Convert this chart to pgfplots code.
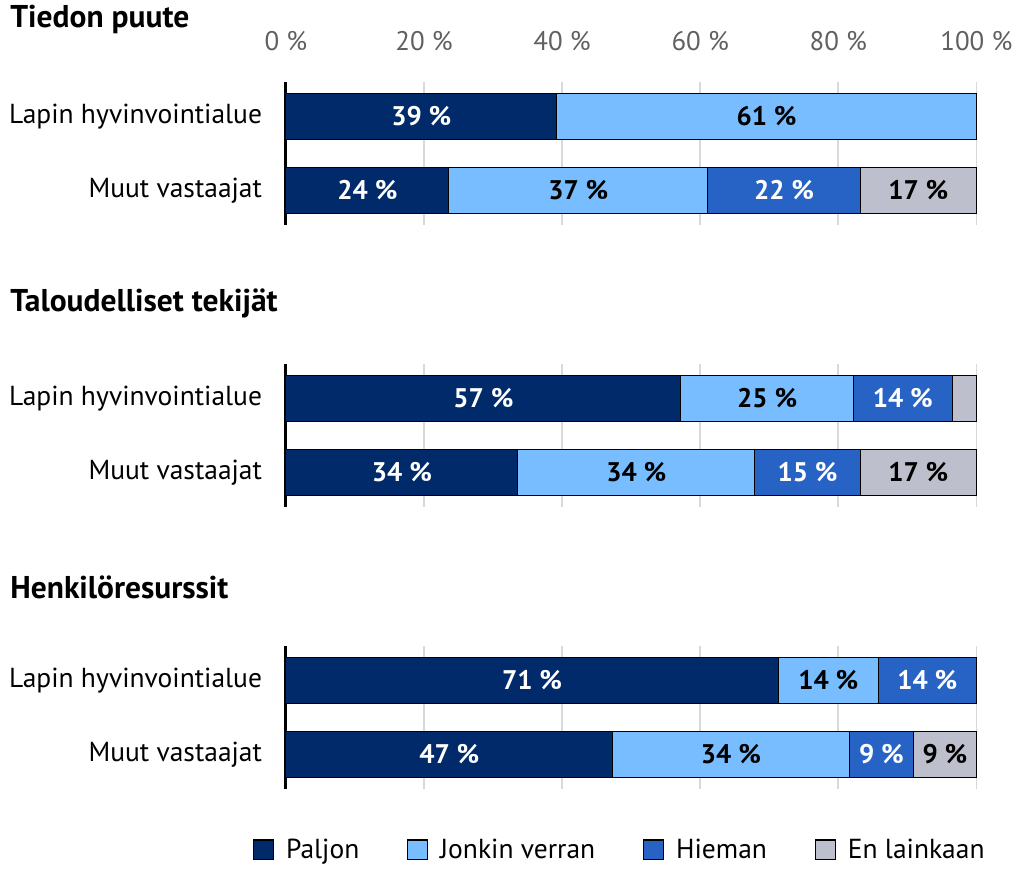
\documentclass[border=0pt]{standalone}
\usepackage{pgfplots}
\pgfplotsset{compat=1.18}
\usepackage{fontspec}
\setmainfont{PT Sans}

\definecolor{paljon}{HTML}{002A6A}
\definecolor{jonkin}{HTML}{77BDFF}
\definecolor{hieman}{HTML}{2762C5}
\definecolor{eilain}{HTML}{BEBFCD}
\definecolor{tickgray}{HTML}{606060}

\pgfplotsset{
  panel/.style={
    xbar stacked, scale only axis, clip=false,
    width=346.5pt, height=72pt,
    xmin=0, xmax=100, ymin=-0.466, ymax=1.466,
    bar width=0.617,
    ytick={0,1}, yticklabels={Muut vastaajat, Lapin hyvinvointialue},
    yticklabel style={font=\fontsize{13.8}{15}\selectfont, xshift=-8.5pt},
    xtick={0,20,...,100},
    xmajorgrids, grid style={black!15, line width=0.8pt},
    axis line style={draw=none}, major tick length=0pt,
    point meta=explicit symbolic,
    nodes near coords={\pgfplotspointmeta},
    every node near coord/.append style={font=\fontsize{13.5}{15}\selectfont\bfseries},
    /pgf/number format/assume math mode=true,
  },
  sP/.style={fill=paljon, draw=black, line width=0.5pt, every node near coord/.append style={text=white}},
  sJ/.style={fill=jonkin, draw=black, line width=0.5pt, every node near coord/.append style={text=black}},
  sH/.style={fill=hieman, draw=black, line width=0.5pt, every node near coord/.append style={text=white}},
  sE/.style={fill=eilain, draw=black, line width=0.5pt, every node near coord/.append style={text=black}},
}

\begin{document}
\begin{tikzpicture}
\path (0,0) rectangle (509.5pt,-433.5pt);

\node[anchor=west, inner sep=0pt, font=\fontsize{15.8}{18}\selectfont\bfseries] at (5pt,-10pt) {Tiedon puute};
\node[anchor=west, inner sep=0pt, font=\fontsize{15.8}{18}\selectfont\bfseries] at (5pt,-152.5pt) {Taloudelliset tekijät};
\node[anchor=west, inner sep=0pt, font=\fontsize{15.8}{18}\selectfont\bfseries] at (5pt,-295pt) {Henkilöresurssit};

% Tiedon puute
\begin{axis}[panel, at={(143.5pt,-41pt)}, anchor=north west,
  xticklabel pos=upper,
  xticklabel={\pgfmathprintnumber{\tick} \%},
  xticklabel style={font=\fontsize{13.5}{15}\selectfont, text=tickgray, yshift=12pt}]
\addplot[sP] coordinates {(23.6,0) [24 \%] (39.2,1) [39 \%]};
\addplot[sJ] coordinates {(37.5,0) [37 \%] (60.8,1) [61 \%]};
\addplot[sH] coordinates {(22.1,0) [22 \%] (0,1) []};
\addplot[sE] coordinates {(16.8,0) [17 \%] (0,1) []};
\draw[black, line width=1.5pt] (rel axis cs:0,0) -- (rel axis cs:0,1);
\end{axis}

% Taloudelliset tekijat
\begin{axis}[panel, at={(143.5pt,-182.5pt)}, anchor=north west,
  xticklabels={}]
\addplot[sP] coordinates {(33.6,0) [34 \%] (57.2,1) [57 \%]};
\addplot[sJ] coordinates {(34.3,0) [34 \%] (25.0,1) [25 \%]};
\addplot[sH] coordinates {(15.3,0) [15 \%] (14.3,1) [14 \%]};
\addplot[sE] coordinates {(16.8,0) [17 \%] (3.5,1) []};
\draw[black, line width=1.5pt] (rel axis cs:0,0) -- (rel axis cs:0,1);
\end{axis}

% Henkiloresurssit
\begin{axis}[panel, at={(143.5pt,-324pt)}, anchor=north west,
  xticklabels={},
  legend columns=4,
  legend style={at={(0.485,-0.424)}, anchor=center, draw=none,
    font=\fontsize{13.8}{15}\selectfont,
    /tikz/every odd column/.append style={column sep=4pt},
    /tikz/every even column/.append style={column sep=22pt}},
  legend image code/.code={\draw[#1, line width=0.6pt] (0pt,-5pt) rectangle (10pt,5pt);}]
\addplot[sP] coordinates {(47.3,0) [47 \%] (71.3,1) [71 \%]};
\addlegendentry{Paljon}
\addplot[sJ] coordinates {(34.3,0) [34 \%] (14.5,1) [14 \%]};
\addlegendentry{Jonkin verran}
\addplot[sH] coordinates {(9.3,0) [9 \%] (14.2,1) [14 \%]};
\addlegendentry{Hieman}
\addplot[sE] coordinates {(9.1,0) [9 \%] (0,1) []};
\addlegendentry{En lainkaan}
\draw[black, line width=1.5pt] (rel axis cs:0,0) -- (rel axis cs:0,1);
\end{axis}
\end{tikzpicture}
\end{document}
